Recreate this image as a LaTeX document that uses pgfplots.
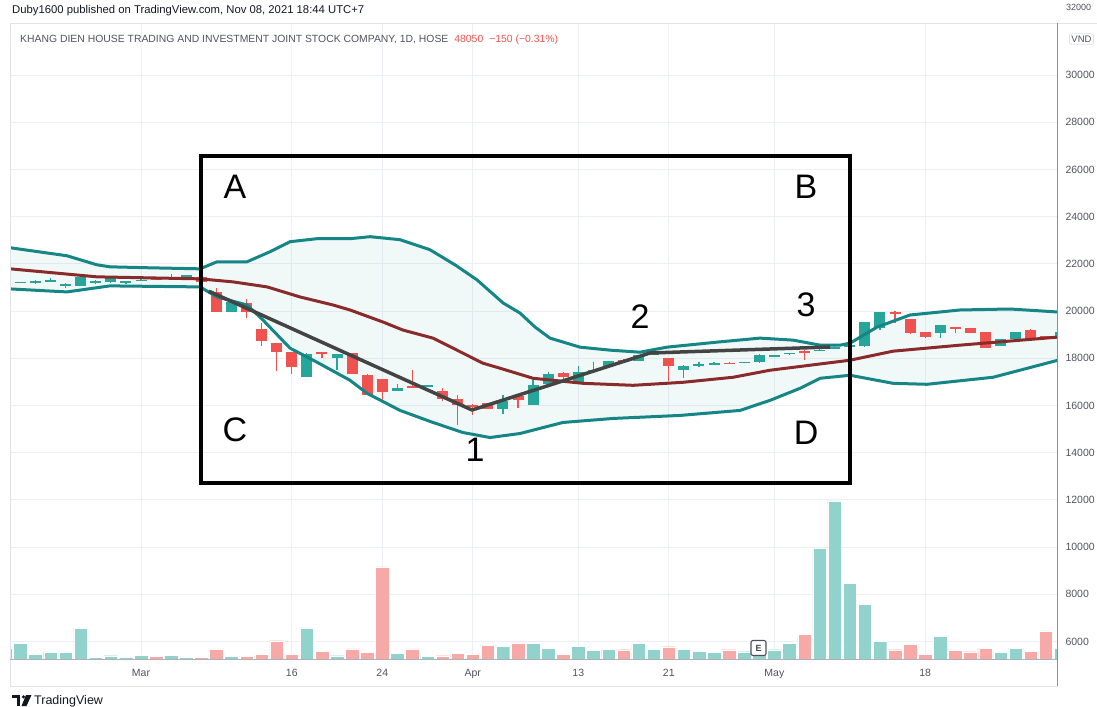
\documentclass[border=0pt]{standalone}
\usepackage{fontspec}
\setmainfont{Liberation Sans}
\usepackage{pgfplots}
\pgfplotsset{compat=1.18}
\usepackage{pgfplotstable}
\definecolor{upc}{HTML}{26A69A}
\definecolor{downc}{HTML}{EF5350}
\definecolor{volup}{HTML}{92D2CC}
\definecolor{voldown}{HTML}{F7A9A7}
\definecolor{bandc}{HTML}{158585}
\definecolor{midc}{HTML}{8A2B2B}
\definecolor{trendc}{HTML}{444444}
\definecolor{gridc}{HTML}{ECF0F5}
\definecolor{tickc}{HTML}{50535E}
\definecolor{titlec}{HTML}{131722}
\definecolor{hdrc}{HTML}{50535E}
\definecolor{framec}{HTML}{E0E3EB}
\definecolor{scalec}{HTML}{8C8F99}

\pgfplotstableread{
i o h l c
-9 21210 21240 21200 21220
-8 21210 21240 21200 21225
-7 21230 21330 21160 21250
-6 21280 21380 21210 21300
-5 21100 21180 20990 21110
-4 21070 21430 21060 21420
-3 21230 21300 21160 21250
-2 21210 21410 21200 21400
-1 21170 21290 21160 21280
0 21290 21370 21250 21310
2 21400 21560 21360 21420
3 21480 21540 21460 21500
6 19950 20400 19940 20390
11 17200 18200 17200 18190
13 18010 18190 17520 18180
17 16610 16920 16600 16750
19 16810 16880 16770 16830
24 15830 16460 15620 16180
26 16030 17060 16030 16880
27 16920 17420 16920 17310
29 16990 17660 16990 17420
30 17480 17840 17470 17500
31 17660 17880 17650 17870
33 17890 18130 17880 18130
34 18160 18220 18120 18180
36 17490 17700 17180 17670
37 17720 17850 17640 17740
38 17760 17820 17730 17780
40 17810 17860 17780 17830
41 17820 18160 17810 18150
42 18090 18140 18050 18110
43 18190 18240 18150 18210
45 18330 18390 18300 18350
46 18440 18500 18420 18460
47 18510 18560 18490 18530
48 18510 19550 18480 19540
49 19290 19970 19200 19940
53 19050 19420 18870 19400
57 18520 18820 18500 18800
58 18800 19100 18790 19090
61 18950 19120 18940 19100
}\upc

\pgfplotstableread{
i o h l c
1 21380 21400 21310 21330
4 21420 21440 21200 21220
5 20800 20970 19940 19950
7 20350 20500 19690 19950
8 19230 19480 18520 18740
9 18630 18630 17460 18280
10 18270 18270 17350 17630
12 18240 18250 17990 18200
14 18200 18210 17320 17320
15 17300 17310 16450 16460
16 17130 17140 16100 16570
18 16790 17490 16720 16770
20 16610 16750 16180 16290
21 16290 16430 15150 16030
22 16030 16040 15580 15960
23 16100 16110 15850 15860
25 16400 16470 15900 16210
28 17390 17400 17020 17210
32 17940 17950 17810 17820
35 18010 18020 17030 17660
39 17790 17830 17740 17770
44 18280 18330 17940 18260
50 19950 20000 19500 19920
51 19650 19660 19040 19050
52 19090 19110 18870 18880
54 19310 19320 19080 19280
55 19290 19300 19070 19080
56 19090 19100 18430 18440
59 19190 19220 18750 18770
60 18920 18950 18880 18900
}\downc

\pgfplotstableread{
i v
-9 5733
-8 5926
-7 5452
-6 5556
-5 5556
-4 6548
-3 5319
-2 5393
-1 5319
0 5407
2 5407
3 5319
6 5363
11 6578
13 5393
17 5496
19 5378
24 5793
26 5926
27 5710
29 5789
30 5620
31 5676
33 5930
34 5676
36 5676
37 5577
38 5549
40 5563
41 5450
42 5648
43 5930
45 9944
46 11958
47 8465
48 7577
49 6000
53 6211
57 5549
58 5718
61 5718
}\volupt

\pgfplotstableread{
i v
1 5378
4 5319
5 5674
7 5378
8 5452
9 6030
10 5467
12 5585
14 5689
15 5526
16 9160
18 5689
20 5393
21 5496
22 5452
23 5822
25 5941
28 5465
32 5648
35 5775
39 5648
44 6310
50 5648
51 5887
52 5465
54 5620
55 5563
56 5718
59 5577
60 6451
}\voldownt

\begin{document}
\begin{tikzpicture}
\useasboundingbox (-10bp,-47.5bp) rectangle (1087bp,659.5bp);
\begin{axis}[
  at={(0,0)}, anchor=south west,
  scale only axis, width=1047bp, height=636.5bp,
  xmin=-8.687, xmax=60.74, ymin=5234, ymax=32203,
  axis line style={draw=none},
  major tick length=0pt,
  xtick={0,10,16,22,29,35,42,52},
  xticklabels={Mar,16,24,Apr,13,21,May,18},
  ytick={6000,8000,...,30000},
  scaled y ticks=false,
  yticklabel pos=right,
  grid=major,
  major grid style={draw=gridc, line width=0.9bp},
  tick label style={font=\fontsize{10.5bp}{12bp}\selectfont, text=tickc},
  yticklabel style={xshift=5bp},
  xticklabel style={yshift=-6bp},
  /pgf/number format/1000 sep={},
  /pgf/number format/assume math mode=true,
]
% band fill
\addplot[draw=none, fill=bandc, fill opacity=0.06, forget plot] coordinates {
(-8.69,22681) (-4.91,22340) (-2.92,21957) (-2.06,21872) (0.60,21830) (3.91,21787) (5.04,22085) (7.03,22085) (8.55,22510) (9.88,22936) (11.67,23064) (13.86,23064) (15.19,23149) (17.18,23021) (19.16,22596) (20.82,21957) (22.28,21319) (24.01,20340) (25.13,19915) (26.13,19319) (27.12,18851) (29.11,18468) (31.10,18341) (33.09,18255) (34.88,18468) (38.20,18681) (41.05,18851) (43.24,18766) (45.03,18553) (46.35,18553) (47.02,18638) (48.81,19319) (50.99,19830) (54.31,20043) (57.63,20085) (60.81,19957)
(60.81,17915) (56.50,17192) (52.12,16894) (49.87,16936) (47.02,17277) (45.03,17149) (43.70,16724) (41.71,16213) (39.72,15787) (35.74,15575) (31.30,15447) (27.98,15277) (25.13,14809) (23.14,14639) (21.35,14851) (19.36,15277) (17.18,15787) (14.99,16511) (13.86,17064) (11.67,17830) (9.88,18426) (8.09,19617) (7.03,20255) (5.04,20596) (3.91,21021) (-2.06,21064) (-4.91,20808) (-8.69,20936)
} -- cycle;
% volume
\addplot[ybar, bar width=0.9, bar shift=0pt, fill=volup, draw=white, line width=0.4bp, forget plot] table[x=i, y=v] {\volupt};
\addplot[ybar, bar width=0.9, bar shift=0pt, fill=voldown, draw=white, line width=0.4bp, forget plot] table[x=i, y=v] {\voldownt};
% candles: wicks
\addplot[draw=none, no markers, forget plot, error bars/.cd, y dir=both, y explicit, error mark=none, error bar style={line width=1.2bp, draw=upc}] table[x=i, y expr={(\thisrow{h}+\thisrow{l})/2}, y error expr={(\thisrow{h}-\thisrow{l})/2}] {\upc};
\addplot[draw=none, no markers, forget plot, error bars/.cd, y dir=both, y explicit, error mark=none, error bar style={line width=1.2bp, draw=downc}] table[x=i, y expr={(\thisrow{h}+\thisrow{l})/2}, y error expr={(\thisrow{h}-\thisrow{l})/2}] {\downc};
% candles: bodies
\addplot[draw=none, no markers, forget plot, error bars/.cd, y dir=both, y explicit, error mark=none, error bar style={line width=11bp, draw=upc}] table[x=i, y expr={(\thisrow{o}+\thisrow{c})/2}, y error expr={max(abs(\thisrow{o}-\thisrow{c})/2,28)}] {\upc};
\addplot[draw=none, no markers, forget plot, error bars/.cd, y dir=both, y explicit, error mark=none, error bar style={line width=11bp, draw=downc}] table[x=i, y expr={(\thisrow{o}+\thisrow{c})/2}, y error expr={max(abs(\thisrow{o}-\thisrow{c})/2,28)}] {\downc};
% bands
\addplot[bandc, line width=3bp, line join=round] coordinates {
(-8.69,22681) (-4.91,22340) (-2.92,21957) (-2.06,21872) (0.60,21830) (3.91,21787) (5.04,22085) (7.03,22085) (8.55,22510) (9.88,22936) (11.67,23064) (13.86,23064) (15.19,23149) (17.18,23021) (19.16,22596) (20.82,21957) (22.28,21319) (24.01,20340) (25.13,19915) (26.13,19319) (27.12,18851) (29.11,18468) (31.10,18341) (33.09,18255) (34.88,18468) (38.20,18681) (41.05,18851) (43.24,18766) (45.03,18553) (46.35,18553) (47.02,18638) (48.81,19319) (50.99,19830) (54.31,20043) (57.63,20085) (60.81,19957)};
\addplot[bandc, line width=3bp, line join=round] coordinates {
(-8.69,20936) (-4.91,20808) (-2.06,21064) (3.91,21021) (5.04,20596) (7.03,20255) (8.09,19617) (9.88,18426) (11.67,17830) (13.86,17064) (14.99,16511) (17.18,15787) (19.36,15277) (21.35,14851) (23.14,14639) (25.13,14809) (27.98,15277) (31.30,15447) (35.74,15575) (39.72,15787) (41.71,16213) (43.70,16724) (45.03,17149) (47.02,17277) (49.87,16936) (52.12,16894) (56.50,17192) (60.81,17915)};
\addplot[midc, line width=3bp, line join=round] coordinates {
(-8.69,21787) (-2.92,21447) (3.91,21362) (6.10,21234) (8.36,21021) (10.54,20596) (12.73,20255) (13.86,20043) (16.05,19532) (17.37,19192) (19.36,18851) (22.68,17787) (23.81,17575) (26.00,17149) (29.31,16936) (32.63,16851) (35.94,16979) (39.26,17192) (41.71,17490) (47.02,17915) (49.87,18298) (54.31,18553) (60.81,18894)};
% trend line
\addplot[trendc, line width=3.5bp, line join=round] coordinates {(4.5,20840) (21.95,15805) (33.75,18220) (45.69,18475)};
% rectangle and labels
\draw[black, line width=4bp] (axis cs:3.98,12712) rectangle (axis cs:47.02,26567);
\begin{scope}[every node/.style={font=\fontsize{34bp}{40bp}\selectfont, text=black}]
\node at (axis cs:6.23,25254) {A};
\node at (axis cs:44.10,25254) {B};
\node at (axis cs:6.23,14958) {C};
\node at (axis cs:44.10,14831) {D};
\node at (axis cs:22.15,14110) {1};
\node at (axis cs:33.09,19746) {2};
\node at (axis cs:44.10,20254) {3};
\end{scope}
\end{axis}
% frame lines
\draw[framec, line width=0.8bp] (0,636.5bp) -- (1087bp,636.5bp);
\draw[framec, line width=0.8bp] (0,636.5bp) -- (0,-26.5bp);
\draw[framec, line width=0.8bp] (0,-26.5bp) -- (1047bp,-26.5bp);
\draw[scalec!70, line width=1.3bp] (0,0) -- (1047bp,0);
\draw[scalec, line width=1bp] (1047bp,636.5bp) -- (1047bp,-26.5bp);
% E marker
\node[draw=titlec!75, line width=1.1bp, rounded corners=2bp, fill=white, minimum width=15bp, minimum height=15bp, inner sep=0pt, font=\fontsize{9bp}{10bp}\selectfont\bfseries, text=titlec!80] at (748.5bp,11.5bp) {E};
% header
\node[anchor=west, inner sep=0pt, font=\fontsize{11.3bp}{13bp}\selectfont, text=titlec] at (2bp,648.5bp) {Duby1600 published on TradingView.com, Nov 08, 2021 18:44 UTC+7};
\node[anchor=west, inner sep=0pt, font=\fontsize{10.4bp}{12bp}\selectfont, text=hdrc] at (10bp,619.5bp) {KHANG DIEN HOUSE TRADING AND INVESTMENT JOINT STOCK COMPANY, 1D, HOSE\hspace{6bp}\textcolor{downc}{48050\hspace{6bp}−150 (−0.31\%)}};
% price scale currency
\node[anchor=west, inner sep=0pt, font=\fontsize{9bp}{10bp}\selectfont, text=tickc] at (1056bp,652.5bp) {32000};
\node[draw=framec, line width=0.8bp, rounded corners=2bp, fill=white, inner sep=2bp, font=\fontsize{9.5bp}{11bp}\selectfont, text=tickc] at (1071.5bp,620.5bp) {VND};
% TradingView logo
\fill[titlec] (2bp,-35.5bp) rectangle (10bp,-38.5bp);
\fill[titlec] (6.5bp,-38.5bp) rectangle (10bp,-46.5bp);
\fill[titlec] (13.5bp,-37.3bp) circle (1.8bp);
\fill[titlec] (16bp,-35.5bp) -- (21.5bp,-35.5bp) -- (16.5bp,-46.5bp) -- (11.5bp,-46.5bp) -- cycle;
\node[anchor=west, inner sep=0pt, font=\fontsize{12.5bp}{14bp}\selectfont, text=titlec] at (24bp,-41.5bp) {TradingView};
\end{tikzpicture}
\end{document}
